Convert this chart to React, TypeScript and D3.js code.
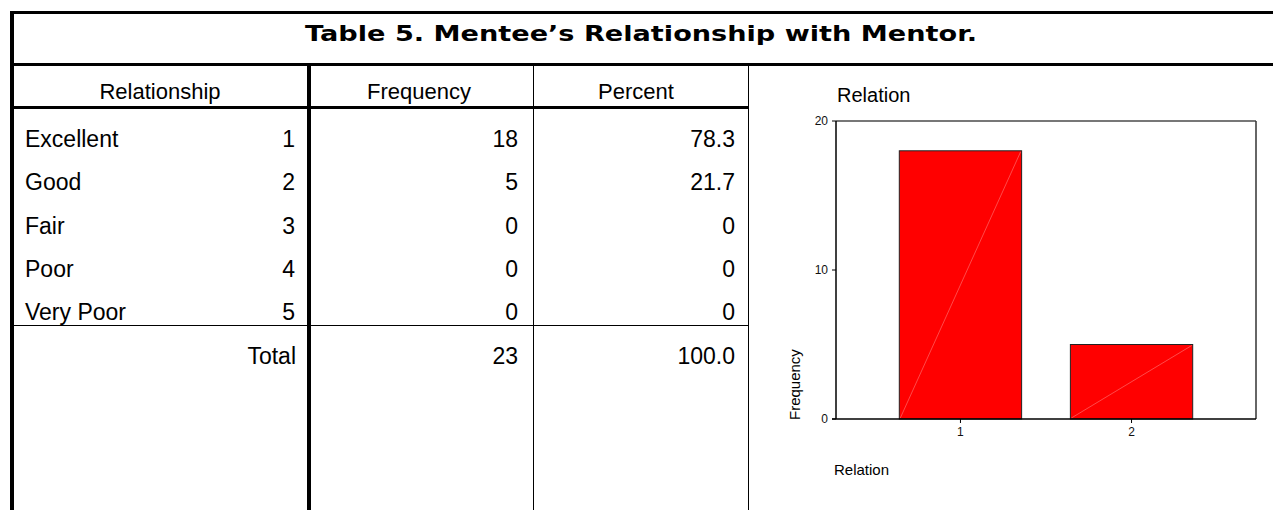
import React from 'react';
import * as d3 from 'd3';

// table data
const categories = ['Excellent', 'Good', 'Fair', 'Poor', 'Very Poor'];
const codes = ['1', '2', '3', '4', '5'];
const frequencies = [18, 5, 0, 0, 0];
const percents = ['78.3', '21.7', '0', '0', '0'];
const totalFrequency = 23;
const totalPercent = '100.0';

// bar chart data
const barLabels = ['1', '2'];
const barValues = [18, 5];
const yTicks = [0, 10, 20];

const W = 1273;
const H = 510;
const sans = '"Liberation Sans", Arial, sans-serif';

const App = () => {
  // table columns
  const colLeft = 10;
  const colRel = 309;
  const colFreq = 533;
  const colPct = 748;
  const rowY = d3.scaleLinear().domain([0, 4]).range([147, 320]);

  // chart area
  const plot = { left: 836, right: 1256, top: 121, bottom: 419 };
  const x = d3.scaleBand<string>()
    .domain(barLabels)
    .range([plot.left, plot.right])
    .paddingInner(0.285)
    .paddingOuter(0.37);
  const y = d3.scaleLinear().domain([0, 20]).range([plot.bottom, plot.top]);

  return (
    <div style={{ position: 'absolute', left: 0, top: 0 }}>
      <svg width={W} height={H} style={{ display: 'block', background: '#fff' }}>
        {/* title box */}
        <line x1={colLeft} x2={W} y1={12.5} y2={12.5} stroke="#000" strokeWidth={3} />
        <line x1={colLeft} x2={W} y1={64.5} y2={64.5} stroke="#000" strokeWidth={3} />
        <line x1={12} x2={12} y1={11} y2={H} stroke="#000" strokeWidth={4} />
        <text x={641} y={41} textAnchor="middle" fontFamily='"DejaVu Sans", Verdana, sans-serif'
          fontWeight="bold" fontSize={22} textLength={672} lengthAdjust="spacingAndGlyphs">
          Table 5.  Mentee’s Relationship with Mentor.
        </text>

        {/* header */}
        <g fontFamily={sans} fontSize={22} textAnchor="middle" fill="#000">
          <text x={160} y={99}>Relationship</text>
          <text x={419} y={99}>Frequency</text>
          <text x={636} y={99}>Percent</text>
        </g>
        <line x1={colLeft} x2={colPct} y1={107.5} y2={107.5} stroke="#000" strokeWidth={3} />

        {/* column rules */}
        <line x1={colRel} x2={colRel} y1={64} y2={H} stroke="#000" strokeWidth={4} />
        <line x1={colFreq + 0.5} x2={colFreq + 0.5} y1={64} y2={H} stroke="#000" strokeWidth={1} />
        <line x1={colPct + 0.5} x2={colPct + 0.5} y1={64} y2={H} stroke="#000" strokeWidth={1} />

        {/* rows */}
        <g fontFamily={sans} fontSize={23} fill="#000">
          {categories.map((c, i) => (
            <g key={c}>
              <text x={25} y={rowY(i)}>{c}</text>
              <text x={295} y={rowY(i)} textAnchor="end">{codes[i]}</text>
              <text x={518} y={rowY(i)} textAnchor="end">{frequencies[i]}</text>
              <text x={735} y={rowY(i)} textAnchor="end">{percents[i]}</text>
            </g>
          ))}
          <text x={296} y={364} textAnchor="end">Total</text>
          <text x={518} y={364} textAnchor="end">{totalFrequency}</text>
          <text x={735} y={364} textAnchor="end">{totalPercent}</text>
        </g>
        <line x1={colLeft} x2={colPct} y1={325.5} y2={325.5} stroke="#000" strokeWidth={1} />

        {/* chart */}
        <text x={837} y={102} fontFamily={sans} fontSize={20}>Relation</text>
        <line x1={plot.left} x2={plot.right} y1={plot.top} y2={plot.top} stroke="#777" strokeWidth={2} />
        <line x1={plot.right} x2={plot.right} y1={plot.top} y2={plot.bottom} stroke="#333" strokeWidth={1.5} />

        {barLabels.map((b, i) => {
          const x0 = x(b)!;
          const x1 = x0 + x.bandwidth();
          const yTop = y(barValues[i]);
          return (
            <g key={b}>
              <rect x={x0} y={yTop} width={x.bandwidth()} height={plot.bottom - yTop}
                fill="#ff0000" stroke="#222" strokeWidth={1} />
              <line x1={x0 + 1} y1={plot.bottom - 1} x2={x1 - 1} y2={yTop + 1}
                stroke="#ff7a7a" strokeWidth={0.6} />
            </g>
          );
        })}

        <line x1={plot.left} x2={plot.left} y1={plot.top} y2={plot.bottom} stroke="#000" strokeWidth={1.5} />
        <line x1={plot.left - 4} x2={plot.right} y1={plot.bottom} y2={plot.bottom} stroke="#000" strokeWidth={1.5} />

        <g fontFamily={sans} fontSize={12} fill="#111">
          {yTicks.map(t => (
            <g key={t}>
              <line x1={plot.left - 4} x2={plot.left} y1={y(t)} y2={y(t)} stroke="#000" />
              <text x={828} y={y(t)} dy="0.35em" textAnchor="end">{t}</text>
            </g>
          ))}
          {barLabels.map(b => (
            <g key={b}>
              <line x1={x(b)! + x.bandwidth() / 2} x2={x(b)! + x.bandwidth() / 2}
                y1={plot.bottom} y2={plot.bottom + 4} stroke="#000" />
              <text x={x(b)! + x.bandwidth() / 2} y={436} textAnchor="middle">{b}</text>
            </g>
          ))}
        </g>

        <text transform="translate(800,420) rotate(-90)" fontFamily={sans} fontSize={15}>Frequency</text>
        <text x={834} y={475} fontFamily={sans} fontSize={15}>Relation</text>
      </svg>
    </div>
  );
};

export default App;
